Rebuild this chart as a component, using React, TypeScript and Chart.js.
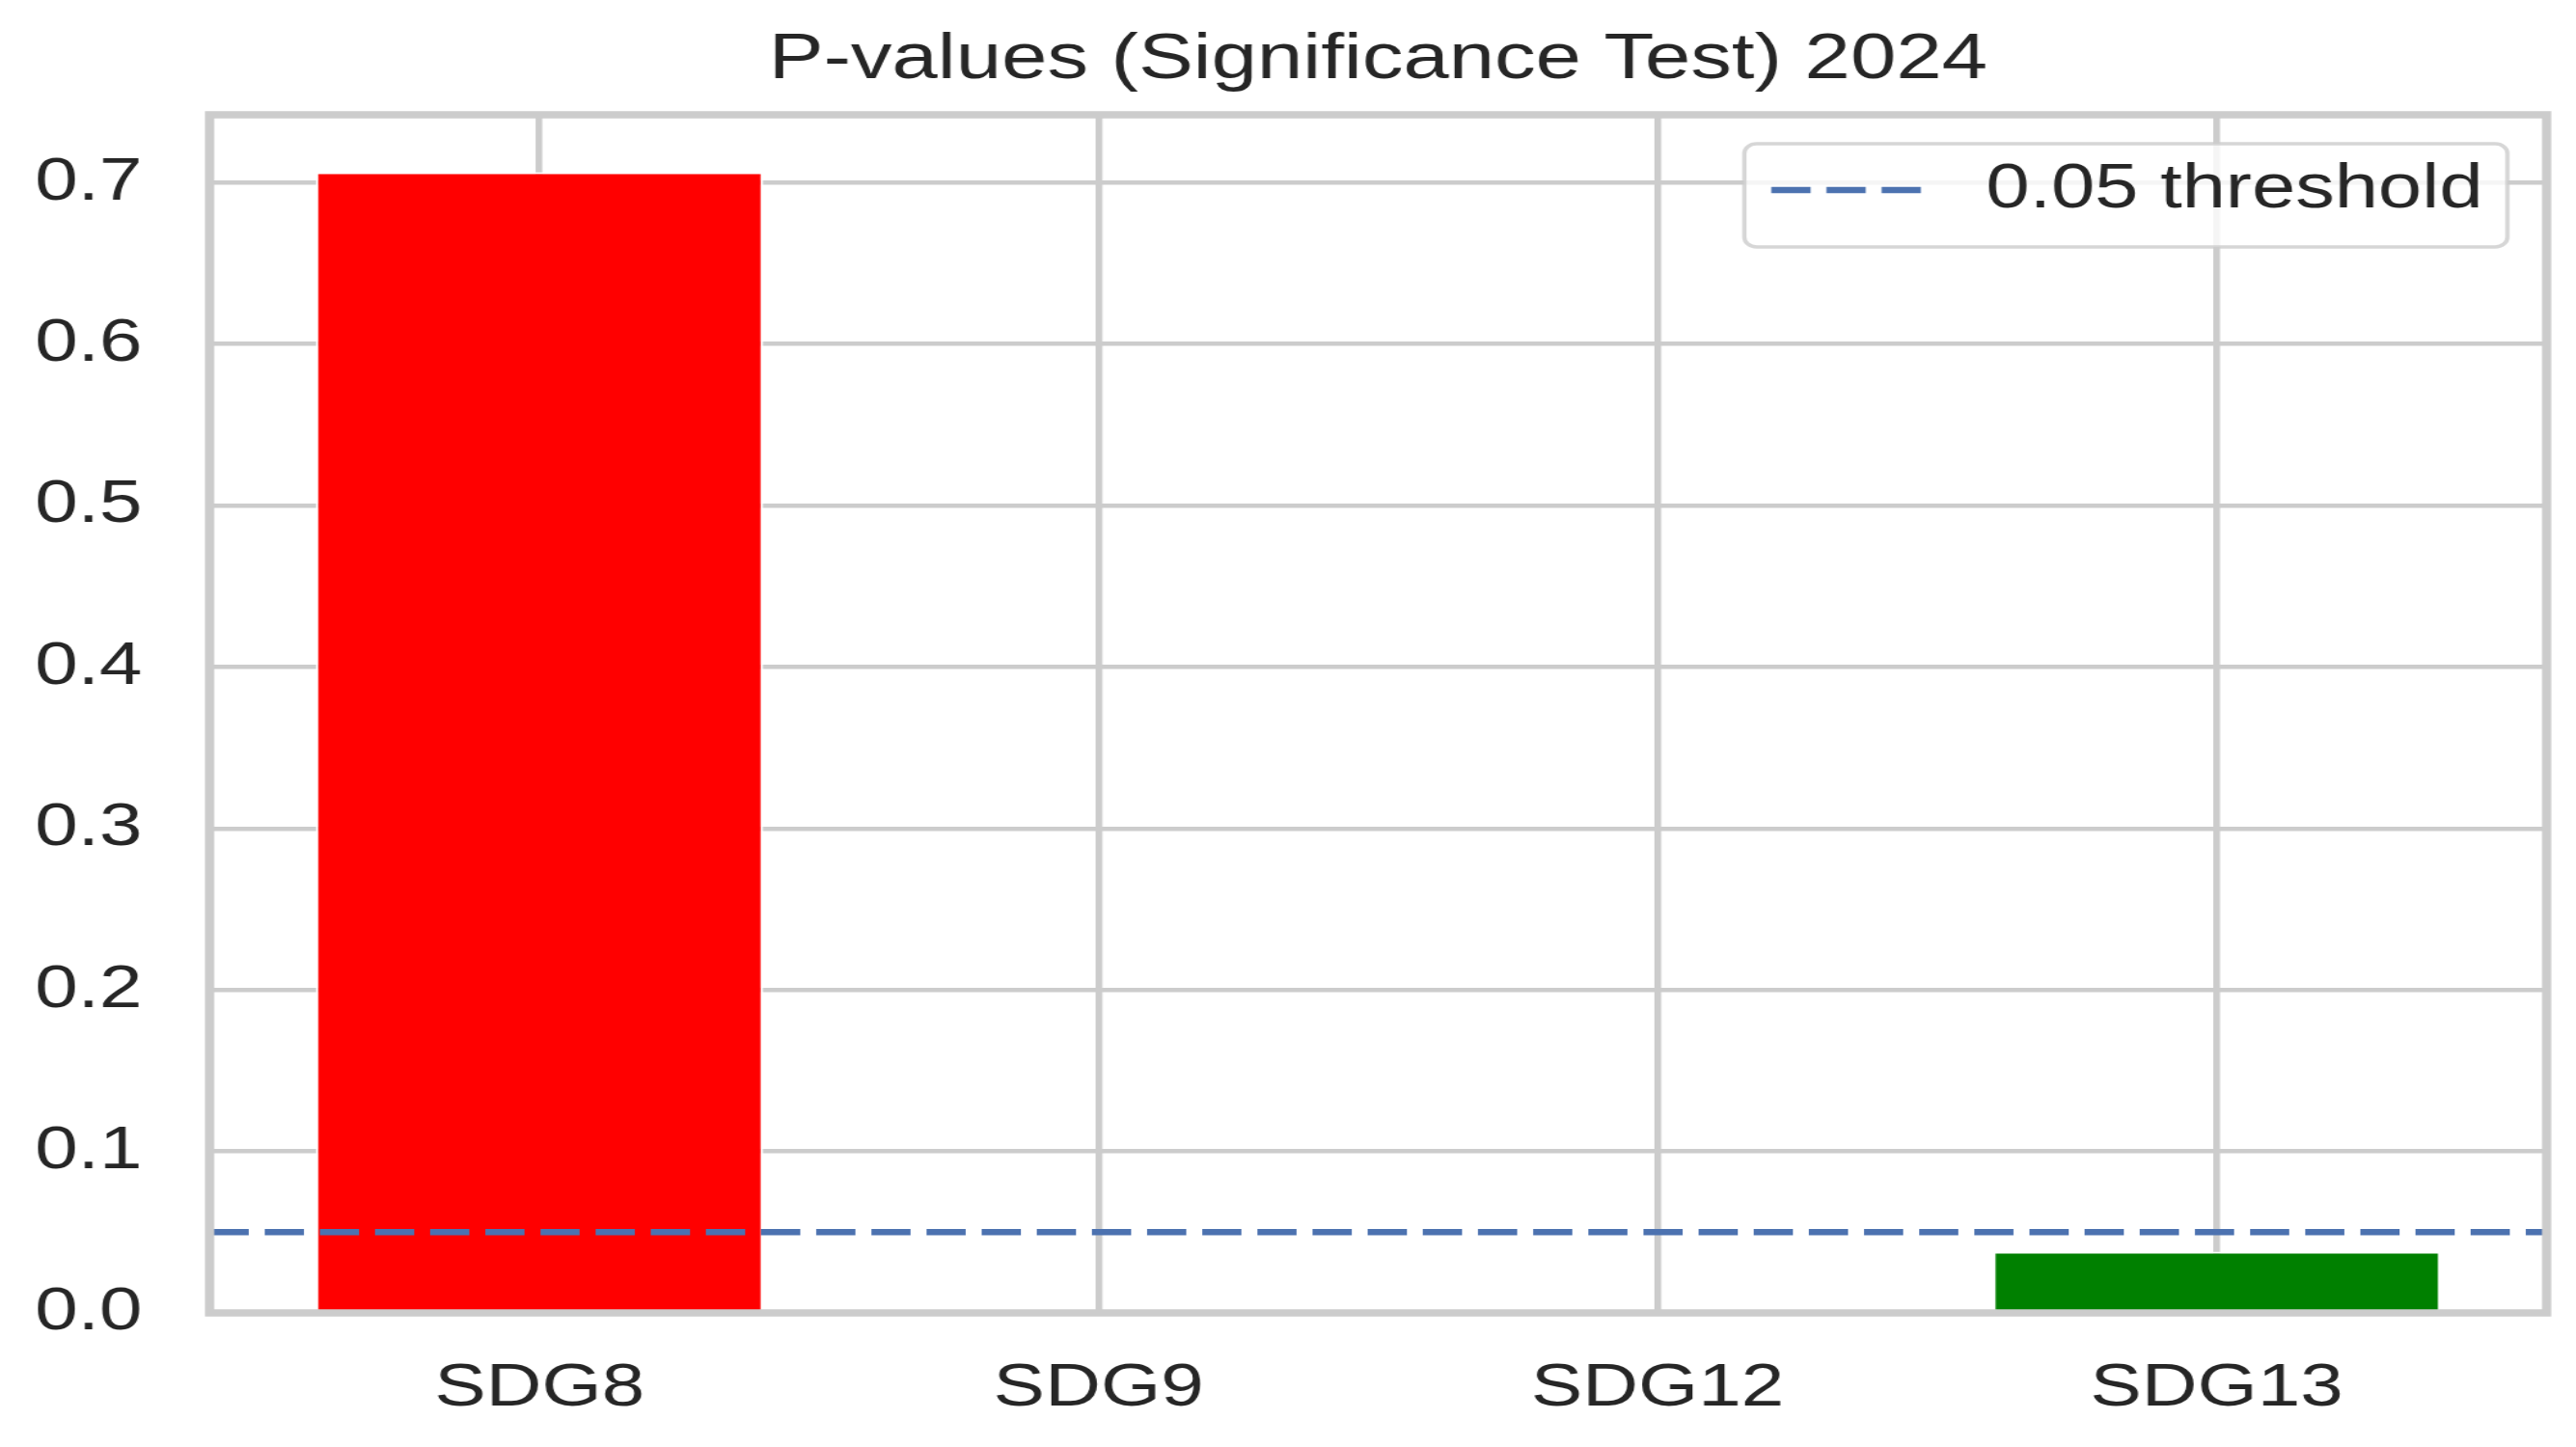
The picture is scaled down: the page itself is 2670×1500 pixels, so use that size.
import { useEffect, useRef } from "react";
import { Chart, registerables } from "chart.js";

Chart.register(...registerables);

// data
const CATEGORIES = ["SDG8", "SDG9", "SDG12", "SDG13"];
const P_VALUES = [0.7065, 0.0003, 0.0001, 0.038];
const THRESHOLD = 0.05;
const THRESHOLD_LABEL = "0.05 threshold";
const TITLE = "P-values (Significance Test) 2024";

// axis limits (matplotlib style margins)
const X_MIN = -0.59;
const X_MAX = 3.59;
const Y_MAX = 0.742;
const Y_STEP = 0.1;

// the reference figure is stretched horizontally, so draw narrow and stretch with css
const OUT_W = 2670;
const OUT_H = 1500;
const STRETCH = 1.27;
const CANVAS_W = Math.round(OUT_W / STRETCH);

const FONT = '"Liberation Sans", Arial, Helvetica, sans-serif';
const TEXT = "#262626";
const GRID = "#cccccc";

const framePlugin = {
  id: "frame",
  afterDatasetsDraw(chart: any) {
    const { ctx, chartArea: a } = chart;
    ctx.save();
    ctx.strokeStyle = GRID;
    ctx.lineWidth = 7.5;
    ctx.strokeRect(a.left, a.top, a.right - a.left, a.bottom - a.top);
    ctx.restore();
  },
};

// boxed legend in the top right corner of the plot area
const legendPlugin = {
  id: "boxLegend",
  afterDraw(chart: any) {
    const ds = chart.data.datasets.find((d: any) => d.type === "line");
    if (!ds) return;
    const { ctx, chartArea: a } = chart;
    ctx.save();
    ctx.font = `64px ${FONT}`;
    const tw = ctx.measureText(ds.label).width;
    const w = 197 + tw + 20;
    const h = 107;
    const left = a.right - 32 - w;
    const top = a.top + 30;

    ctx.beginPath();
    ctx.roundRect(left, top, w, h, 10);
    ctx.fillStyle = "rgba(255,255,255,0.8)";
    ctx.fill();
    ctx.strokeStyle = "rgba(204,204,204,0.8)";
    ctx.lineWidth = 3.5;
    ctx.stroke();

    const cy = top + 48;
    ctx.beginPath();
    ctx.setLineDash(ds.borderDash);
    ctx.strokeStyle = ds.borderColor;
    ctx.lineWidth = ds.borderWidth;
    ctx.moveTo(left + 22, cy);
    ctx.lineTo(left + 145, cy);
    ctx.stroke();
    ctx.setLineDash([]);

    ctx.fillStyle = TEXT;
    ctx.textBaseline = "middle";
    ctx.textAlign = "left";
    ctx.fillText(ds.label, left + 197, cy);
    ctx.restore();
  },
};

export default function App() {
  const chartRef = useRef<HTMLCanvasElement | null>(null);

  useEffect(() => {
    document.body.style.margin = "0";
    if (!chartRef.current) return;

    const chart = new Chart(chartRef.current, {
      type: "bar",
      data: {
        datasets: [
          {
            type: "line",
            label: THRESHOLD_LABEL,
            data: [
              { x: X_MIN, y: THRESHOLD },
              { x: X_MAX, y: THRESHOLD },
            ],
            borderColor: "#4c72b0",
            borderWidth: 6.5,
            borderDash: [32, 13],
            pointRadius: 0,
            fill: false,
            order: 0,
          } as any,
          {
            type: "bar",
            label: "p-value",
            data: CATEGORIES.map((_, i) => ({ x: i, y: P_VALUES[i] })),
            backgroundColor: P_VALUES.map((p) => (p > THRESHOLD ? "#ff0000" : "#008000")),
            borderColor: "#ffffff",
            borderWidth: 2,
            barPercentage: 0.8,
            categoryPercentage: 1,
            order: 1,
          },
        ],
      },
      options: {
        responsive: false,
        animation: false,
        devicePixelRatio: 1,
        layout: { padding: { left: 0, right: 24, top: 0, bottom: 0 } },
        plugins: {
          legend: { display: false },
          tooltip: { enabled: false },
          title: {
            display: true,
            text: TITLE,
            fullSize: false,
            color: TEXT,
            font: { family: FONT, size: 67, weight: "normal", lineHeight: 1.2 },
            padding: { top: 22, bottom: 16.6 },
          },
        },
        scales: {
          x: {
            type: "linear",
            min: X_MIN,
            max: X_MAX,
            offset: false,
            afterFit: (s: any) => {
              s.height = 139;
            },
            border: { display: false },
            grid: { color: GRID, lineWidth: 5.5, drawTicks: false, offset: false },
            ticks: {
              stepSize: 1,
              includeBounds: false,
              padding: 41,
              color: TEXT,
              font: { family: FONT, size: 63 },
              callback: (v: any) => CATEGORIES[v] ?? "",
            },
          },
          y: {
            min: 0,
            max: Y_MAX,
            afterFit: (s: any) => {
              s.width = 171;
            },
            border: { display: false },
            grid: { color: GRID, lineWidth: 4.5, drawTicks: false },
            ticks: {
              stepSize: Y_STEP,
              includeBounds: false,
              padding: 55,
              color: TEXT,
              font: { family: FONT, size: 63 },
              callback: (v: any) => Number(v).toFixed(1),
            },
          },
        },
      },
      plugins: [framePlugin, legendPlugin],
    });

    return () => chart.destroy();
  }, []);

  return (
    <canvas
      ref={chartRef}
      width={CANVAS_W}
      height={OUT_H}
      style={{ width: OUT_W, height: OUT_H, display: "block" }}
    ></canvas>
  );
}
